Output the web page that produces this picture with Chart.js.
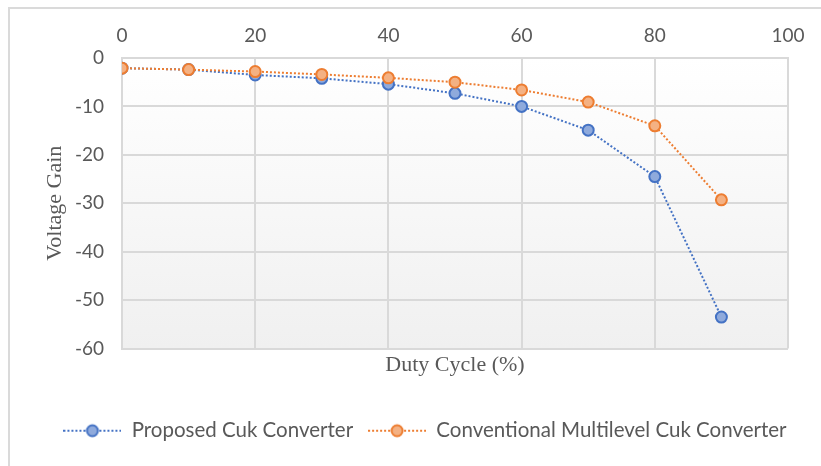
<!DOCTYPE html>
<html>
<head>
<meta charset="utf-8">
<title>Voltage Gain vs Duty Cycle</title>
<script src="https://cdn.jsdelivr.net/npm/chart.js@4.4.1/dist/chart.umd.min.js"></script>
<style>
  html, body { margin: 0; padding: 0; background: #fff; overflow: hidden; }
  #wrap { position: relative; width: 821px; height: 466px; }
  #frame { position: absolute; left: 8px; top: 7px; right: 0; bottom: 0; border-top: 2px solid #dadada; border-left: 2px solid #dadada; }
  #gainChart { position: absolute; left: 0; top: 0; }
</style>
</head>
<body>
<div id="wrap">
  <div id="frame"></div>
  <canvas id="gainChart" width="821" height="466"></canvas>
</div>
<script>
// duty cycle (%) and voltage gain of both converters
const dutyCycle = [0, 10, 20, 30, 40, 50, 60, 70, 80, 90];
const proposedGain = [-2.1, -2.4, -3.5, -4.2, -5.4, -7.3, -10.0, -14.9, -24.5, -53.5];
const conventionalGain = [-2.1, -2.4, -2.8, -3.4, -4.1, -5.0, -6.6, -9.1, -14.0, -29.3];
const seriesNames = ['Proposed Cuk Converter', 'Conventional Multilevel Cuk Converter'];

const BLUE = '#4472c4', BLUE_FILL = '#8faadc';
const ORANGE = '#ed7d31', ORANGE_FILL = '#f4b183';
const GRID = '#d9d9d9';
const TEXT = '#595959';
const SANS = 'Lato, "Open Sans", sans-serif';
const SERIF = '"Liberation Serif", "Times New Roman", serif';

// small dotted-line + marker icon for the legend
function legendIcon(line, fill) {
    const c = document.createElement('canvas');
    c.width = 58; c.height = 16;
    const g = c.getContext('2d');
    g.strokeStyle = line;
    g.lineWidth = 2;
    g.setLineDash([2, 2]);
    g.beginPath(); g.moveTo(0, 8); g.lineTo(58, 8); g.stroke();
    g.setLineDash([]);
    g.beginPath(); g.arc(29, 8, 5.5, 0, Math.PI * 2);
    g.fillStyle = fill; g.fill(); g.stroke();
    return c;
}
const icons = [legendIcon(BLUE, BLUE_FILL), legendIcon(ORANGE, ORANGE_FILL)];

// soft white-to-grey fill behind the plot
const plotBackground = {
    id: 'plotBackground',
    beforeDraw(chart) {
        const { ctx, chartArea: a } = chart;
        const grad = ctx.createLinearGradient(0, a.top, 0, a.bottom);
        grad.addColorStop(0, '#ffffff');
        grad.addColorStop(1, '#f0f0f0');
        ctx.save();
        ctx.fillStyle = grad;
        ctx.fillRect(a.left, a.top, a.right - a.left, a.bottom - a.top);
        ctx.restore();
    }
};

const toPoints = ys => dutyCycle.map((x, i) => ({ x: x, y: ys[i] }));

new Chart(document.getElementById('gainChart').getContext('2d'), {
    type: 'line',
    data: {
        datasets: [
            {
                label: seriesNames[0], data: toPoints(proposedGain), order: 1,
                borderColor: BLUE, borderWidth: 2, borderDash: [2, 2], tension: 0,
                pointRadius: 5.5, pointBorderWidth: 2, pointBackgroundColor: BLUE_FILL, pointBorderColor: BLUE,
                xAxisID: 'x', yAxisID: 'y'
            },
            {
                label: seriesNames[1], data: toPoints(conventionalGain), order: 0,
                borderColor: ORANGE, borderWidth: 2, borderDash: [2, 2], tension: 0,
                pointRadius: 5.5, pointBorderWidth: 2, pointBackgroundColor: ORANGE_FILL, pointBorderColor: ORANGE,
                xAxisID: 'x', yAxisID: 'y'
            }
        ]
    },
    options: {
        responsive: false,
        animation: false,
        layout: { padding: { left: 29, right: 0, top: 0, bottom: 15 } },
        plugins: {
            tooltip: { enabled: false },
            legend: {
                position: 'bottom',
                labels: {
                    usePointStyle: true,
                    pointStyleWidth: 58,
                    padding: 15,
                    color: TEXT,
                    font: { family: SANS, size: 20.5 },
                    generateLabels(chart) {
                        const items = Chart.defaults.plugins.legend.labels.generateLabels(chart);
                        items.forEach(it => { it.pointStyle = icons[it.datasetIndex]; });
                        return items;
                    },
                    sort: (a, b) => a.datasetIndex - b.datasetIndex
                }
            }
        },
        scales: {
            x: {
                type: 'linear', position: 'top', min: 0, max: 100,
                ticks: { stepSize: 20, padding: 11, color: TEXT, font: { family: SANS, size: 19 } },
                grid: { color: GRID, lineWidth: 2, drawTicks: false },
                border: { color: GRID, width: 2 },
                afterFit: s => { s.height = 58; }
            },
            x2: {
                type: 'linear', position: 'bottom', min: 0, max: 100,
                ticks: { display: false },
                grid: { display: false, drawTicks: false },
                border: { display: false },
                title: { display: true, text: 'Duty Cycle (%)', color: TEXT, font: { family: SERIF, size: 22 }, padding: { top: 0, bottom: 27 } },
                afterFit: s => { s.height = 57; }
            },
            y: {
                type: 'linear', min: -60, max: 0,
                ticks: { stepSize: 10, padding: 18, color: TEXT, font: { family: SANS, size: 19 } },
                grid: { color: GRID, lineWidth: 2, drawTicks: false },
                border: { color: GRID, width: 2 },
                title: { display: true, text: 'Voltage Gain', color: TEXT, font: { family: SERIF, size: 22 }, padding: { top: 13, bottom: 0 } },
                afterFit: s => { s.width = 93; }
            },
            y2: {
                type: 'linear', position: 'right',
                ticks: { display: false },
                grid: { display: false, drawTicks: false },
                border: { display: false },
                afterFit: s => { s.width = 33; }
            }
        }
    },
    plugins: [plotBackground]
});
</script>
</body>
</html>
